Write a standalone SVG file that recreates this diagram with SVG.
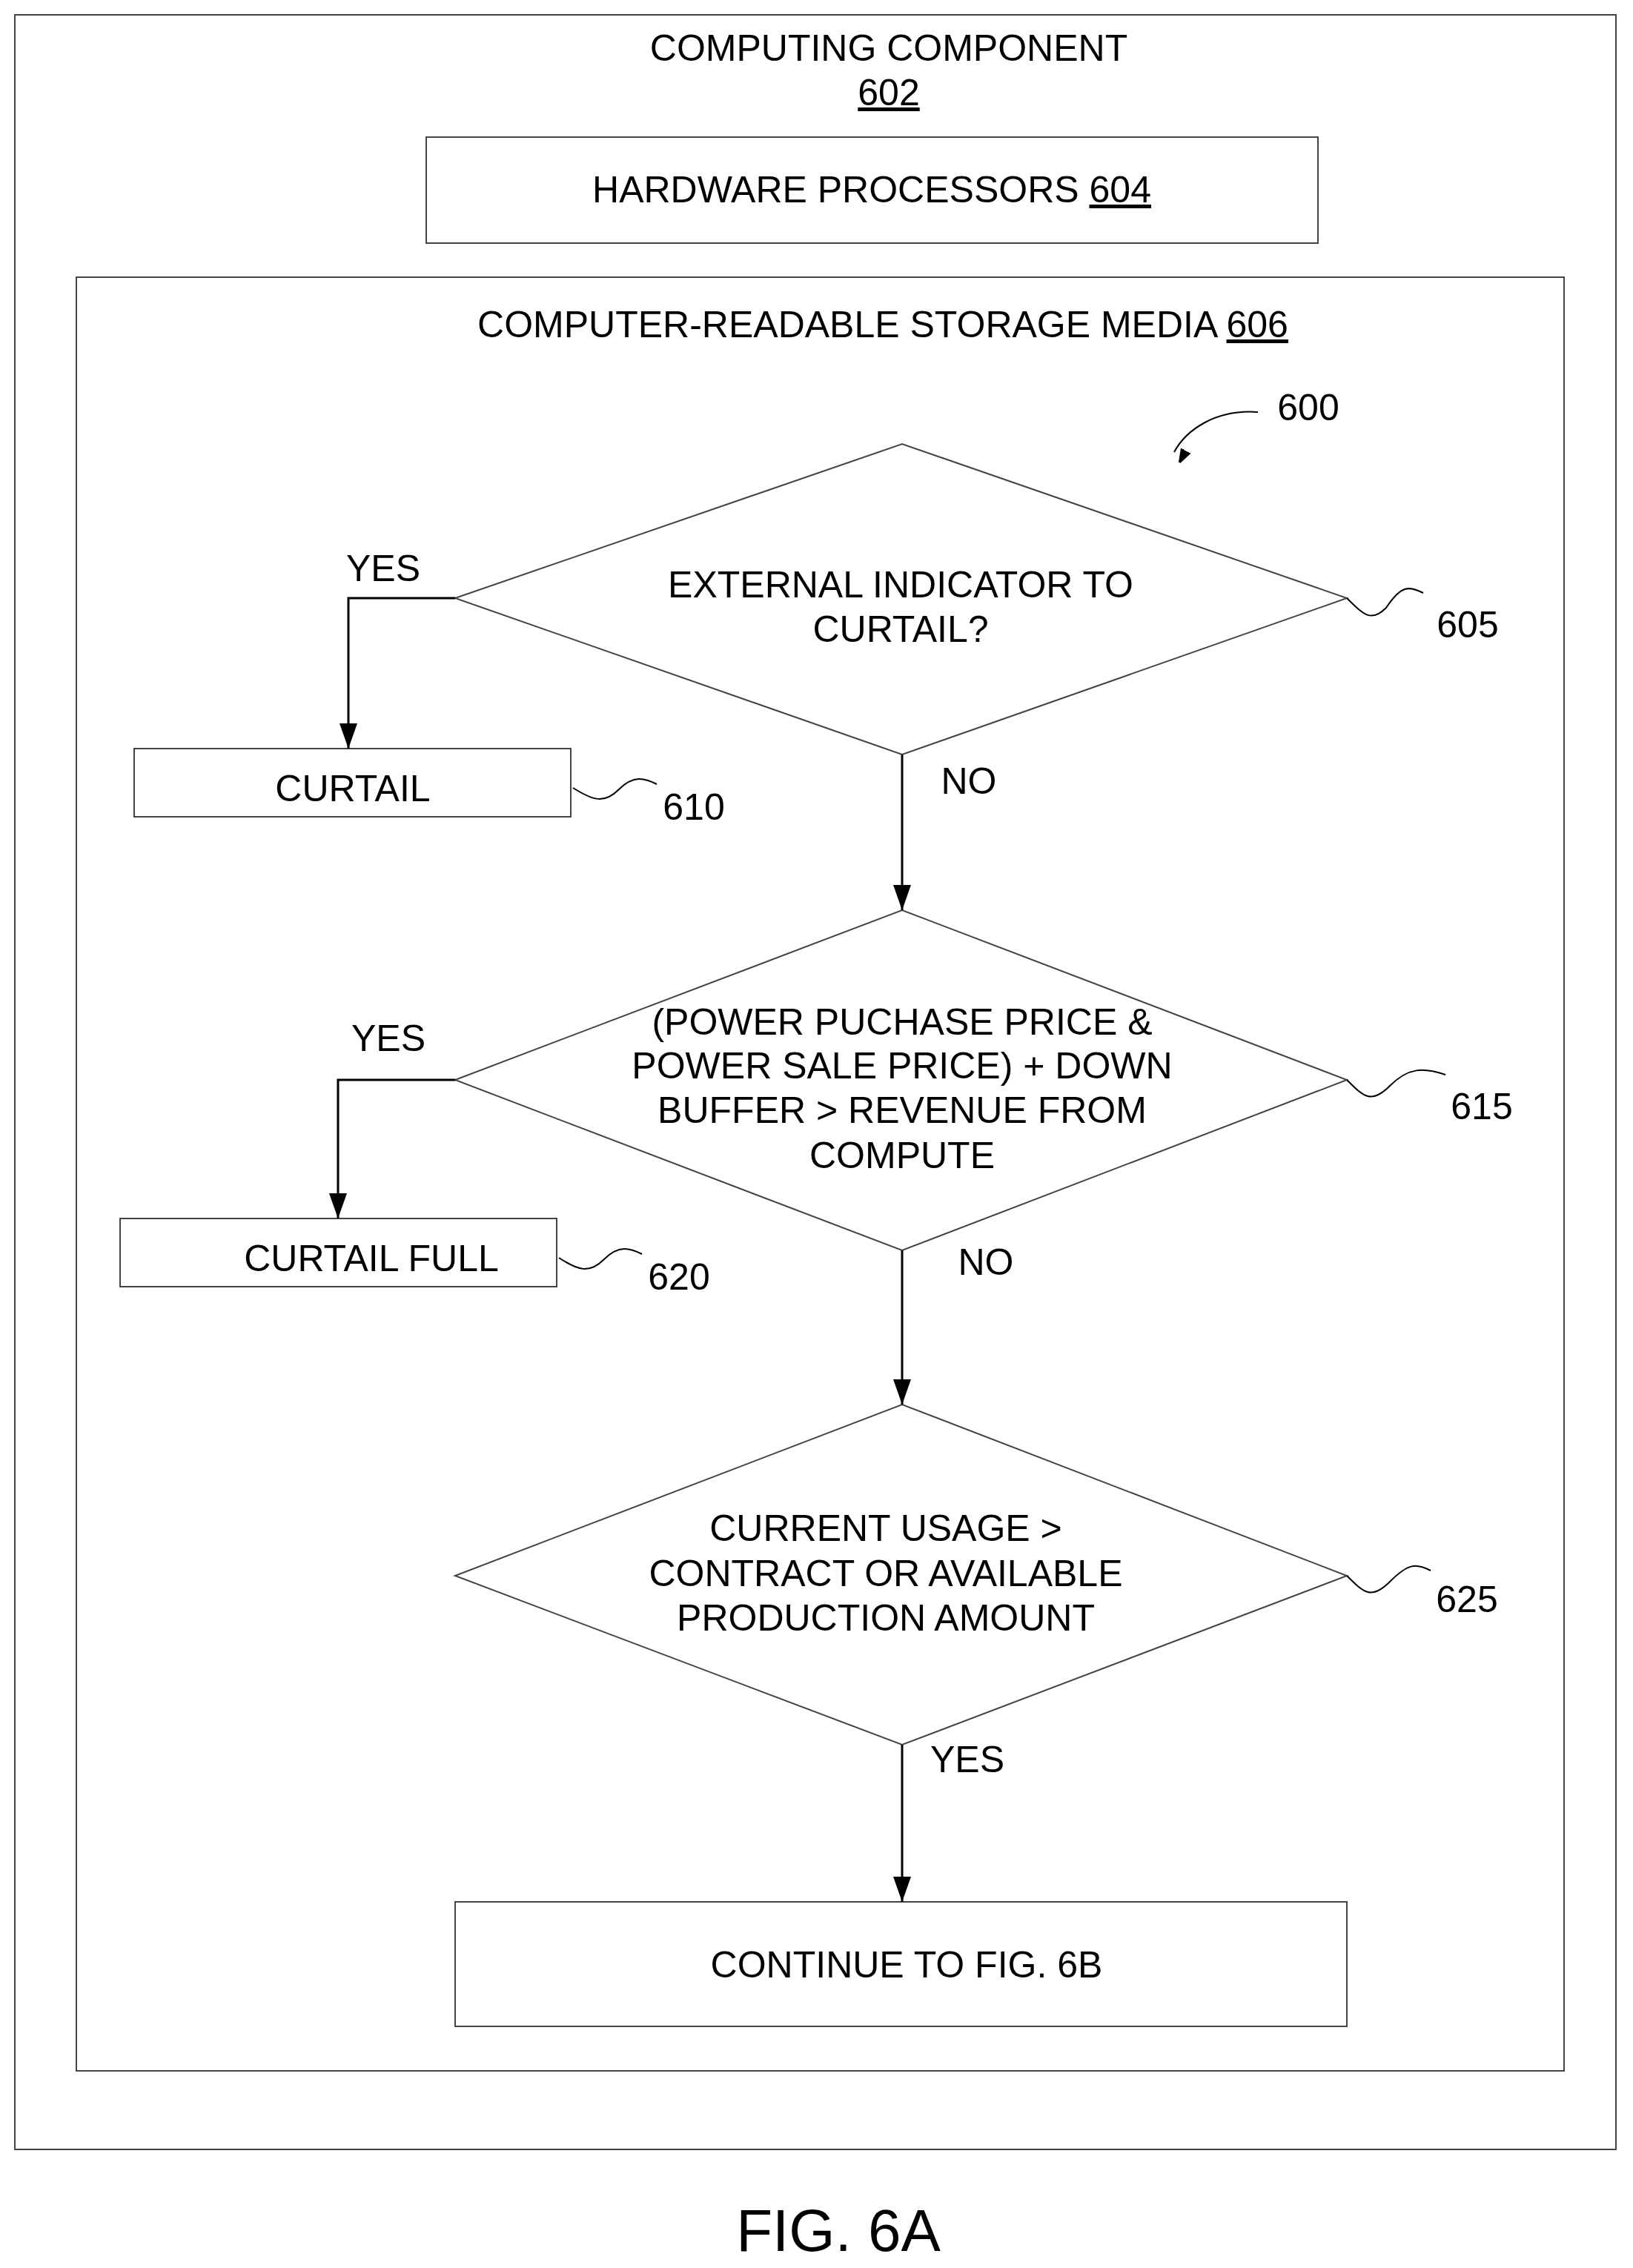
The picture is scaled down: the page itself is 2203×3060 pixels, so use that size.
<svg xmlns="http://www.w3.org/2000/svg" width="2203" height="3060" viewBox="0 0 2203 3060">
<style>
.b{fill:none;stroke:#444;stroke-width:2}
.l{fill:none;stroke:#000;stroke-width:3}
.s{fill:none;stroke:#000;stroke-width:2}
text{font-family:"Liberation Sans",Arial,sans-serif;font-size:50px;fill:#000;text-anchor:middle}
</style>
<defs><marker id="a" markerWidth="18" markerHeight="26" refX="9" refY="26" orient="auto" markerUnits="userSpaceOnUse" viewBox="0 0 18 26"><path d="M0,0L18,0L9,26Z" fill="#000" transform="rotate(-90 9 13)"/></marker>
<marker id="ah" markerWidth="24" markerHeight="34" refX="12" refY="34" orient="0" markerUnits="userSpaceOnUse" viewBox="0 0 24 34"><path d="M0,0L24,0L12,34Z" fill="#000"/></marker></defs>
<rect fill="#fff" width="2203" height="3060"/>
<g id="computing"><rect class="b" x="20" y="20" width="2160" height="2880"/><text x="1199" y="82">COMPUTING COMPONENT</text><text x="1199" y="142" text-decoration="underline">602</text></g>
<g id="hw"><rect class="b" x="575" y="185" width="1203" height="143"/><text x="1176" y="273">HARDWARE PROCESSORS <tspan text-decoration="underline">604</tspan></text></g>
<g id="media"><rect class="b" x="103" y="374" width="2007" height="2420"/><text x="1191" y="455">COMPUTER-READABLE STORAGE MEDIA <tspan text-decoration="underline">606</tspan></text></g>
<g id="n600"><text x="1765" y="567">600</text></g>
<g id="n605"><polygon class="b" points="614,807 1217,599 1817,807 1217,1018"/><text x="1215" y="806">EXTERNAL INDICATOR TO</text><text x="1215" y="866">CURTAIL?</text><text x="1980" y="860">605</text></g>
<g id="n610"><rect class="b" x="181" y="1010" width="589" height="92"/><text x="476" y="1081">CURTAIL</text><text x="936" y="1106">610</text></g>
<g id="n615"><polygon class="b" points="614,1457 1217,1228 1817,1457 1217,1687"/><text x="1217" y="1396">(POWER PUCHASE PRICE &amp;</text><text x="1217" y="1455">POWER SALE PRICE) + DOWN</text><text x="1217" y="1515">BUFFER &gt; REVENUE FROM</text><text x="1217" y="1576">COMPUTE</text><text x="1999" y="1510">615</text></g>
<g id="n620"><rect class="b" x="162" y="1644" width="589" height="92"/><text x="501" y="1715">CURTAIL FULL</text><text x="916" y="1740">620</text></g>
<g id="n625"><polygon class="b" points="614,2126 1217,1895 1817,2126 1217,2354"/><text x="1195" y="2079">CURRENT USAGE &gt;</text><text x="1195" y="2140">CONTRACT OR AVAILABLE</text><text x="1195" y="2200">PRODUCTION AMOUNT</text><text x="1979" y="2175">625</text></g>
<g id="n6b"><rect class="b" x="614" y="2566" width="1203" height="168"/><text x="1223" y="2668">CONTINUE TO FIG. 6B</text></g>
<text x="1131" y="3037" style="font-size:80px">FIG. 6A</text>
<g id="connectors">
<path class="s" d="M1697,556 C1640,552 1600,580 1584,610" marker-end="url(#a)"/>
<path class="s" d="M1817,807 C1840,830 1850,840 1870,820 C1890,790 1900,790 1920,800"/>
<path class="s" d="M773,1063 C800,1080 815,1085 835,1065 C855,1045 870,1050 886,1058"/>
<path class="s" d="M1817,1457 C1840,1480 1850,1490 1875,1465 C1900,1440 1920,1440 1950,1450"/>
<path class="s" d="M754,1697 C780,1714 795,1719 815,1699 C835,1679 850,1684 866,1692"/>
<path class="s" d="M1817,2126 C1840,2149 1850,2159 1875,2134 C1900,2109 1910,2109 1930,2119"/>
<path class="l" d="M614,807H470V1010" marker-end="url(#ah)"/><text x="517" y="784">YES</text>
<path class="l" d="M1217,1018V1228" marker-end="url(#ah)"/><text x="1307" y="1071">NO</text>
<path class="l" d="M614,1457H456V1644" marker-end="url(#ah)"/><text x="524" y="1418">YES</text>
<path class="l" d="M1217,1687V1895" marker-end="url(#ah)"/><text x="1330" y="1720">NO</text>
<path class="l" d="M1217,2354V2566" marker-end="url(#ah)"/><text x="1305" y="2391">YES</text>
</g>
</svg>
